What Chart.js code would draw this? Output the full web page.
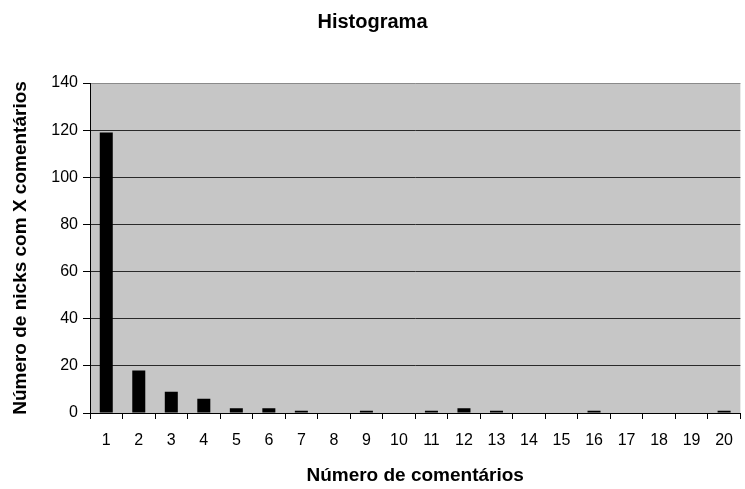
<!DOCTYPE html>
<html>
<head>
<meta charset="utf-8">
<script src="https://cdn.jsdelivr.net/npm/chart.js@4"></script>
<style>
  html, body { margin: 0; padding: 0; background: #fff; }
  #wrap { width: 745px; height: 489px; }
</style>
</head>
<body>
<div id="wrap"><canvas id="histChart" width="745" height="489"></canvas></div>
<script>
// categories (numero de comentarios) and counts
const categories = ['1', '2', '3', '4', '5', '6', '7', '8', '9', '10',
                    '11', '12', '13', '14', '15', '16', '17', '18', '19', '20'];
const counts = [119, 18, 9, 6, 2, 2, 1, 0, 1, 0, 1, 2, 1, 0, 0, 1, 0, 0, 0, 1];
const yTicks = [0, 20, 40, 60, 80, 100, 120, 140];

// gray plot area like the old spreadsheet charts
const plotBg = {
    id: 'plotBg',
    beforeDraw(chart) {
        const a = chart.chartArea;
        const c = chart.ctx;
        c.save();
        c.fillStyle = '#c6c6c6';
        c.fillRect(a.left, a.top, a.right - a.left, a.bottom - a.top);
        c.restore();
    }
};

const family = '"Liberation Sans", Arial, sans-serif';
const tickFont = { family: family, size: 16 };
const axisTitleFont = { family: family, size: 19, weight: 'bold' };

new Chart(document.getElementById('histChart').getContext('2d'), {
    type: 'bar',
    data: {
        labels: categories,
        datasets: [{
            data: counts,
            backgroundColor: '#000',
            borderWidth: 0,
            barPercentage: 0.4,
            categoryPercentage: 1.0
        }]
    },
    options: {
        responsive: false,
        animation: false,
        layout: { padding: 0 },
        plugins: {
            legend: { display: false },
            tooltip: { enabled: false },
            title: {
                display: true,
                text: 'Histograma',
                color: '#000',
                font: { family: family, size: 20, weight: 'bold' },
                padding: { top: 10, bottom: 49 }
            }
        },
        scales: {
            x: {
                offset: true,
                afterFit: function (scale) { scale.height = 76; },
                border: { color: '#000', width: 1 },
                grid: {
                    offset: true,
                    drawOnChartArea: false,
                    drawTicks: true,
                    tickLength: 6,
                    color: '#000'
                },
                ticks: { color: '#000', font: tickFont, padding: 12, maxRotation: 0, autoSkip: false },
                title: {
                    display: true,
                    text: 'Número de comentários',
                    color: '#000',
                    font: axisTitleFont,
                    padding: { top: 0, bottom: 2 }
                }
            },
            y: {
                min: 0,
                max: 140,
                afterFit: function (scale) { scale.width = 90; },
                afterBuildTicks: function (scale) {
                    scale.ticks = yTicks.map(v => ({ value: v }));
                },
                border: { color: '#000', width: 1 },
                grid: {
                    color: function (ctx) {
                        return ctx.tick && ctx.tick.value === 140 ? '#8a8a8a' : '#2a2a2a';
                    },
                    tickColor: '#000',
                    tickLength: 7,
                    lineWidth: 1
                },
                ticks: { color: '#000', font: tickFont, padding: 5 },
                title: {
                    display: true,
                    text: 'Número de nicks com X comentários',
                    color: '#000',
                    font: axisTitleFont,
                    padding: { top: 9, bottom: 0 }
                }
            }
        }
    },
    plugins: [plotBg]
});
</script>
</body>
</html>
